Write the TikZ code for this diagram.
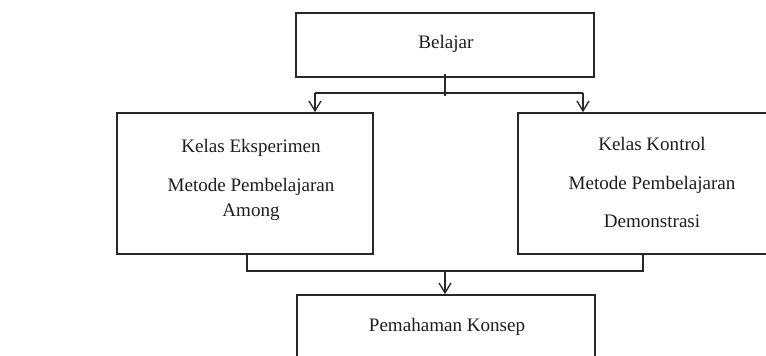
\documentclass[tikz,border=0pt]{standalone}
\usepackage{fontspec}
\setmainfont{Liberation Serif}
\usetikzlibrary{arrows.meta}

\tikzset{
	box/.style={draw={rgb,255:red,40;green,40;blue,40}, line width=1.2pt, rectangle, inner sep=0pt},
	txt/.style={anchor=base, inner sep=0pt, text={rgb,255:red,30;green,30;blue,30}, font=\fontsize{14.3}{17}\selectfont},
	link/.style={draw={rgb,255:red,40;green,40;blue,40}, line width=1pt},
	arr/.style={link, -{Straight Barb[length=7.5pt,width=9pt,line width=1pt]}}}

\begin{document}
\begin{tikzpicture}[x=0.75pt,y=0.75pt,yscale=-1,xscale=1]
	\useasboundingbox (0,0) rectangle (766,355);
	\clip (0,0) rectangle (766,355);

	% Boxes
	\node[box, minimum width=223.5pt, minimum height=48pt] (belajar) at (445,45) {};
	\node[box, minimum width=192pt, minimum height=105.75pt] (eks) at (245,183.5) {};
	\node[box, minimum width=201pt, minimum height=105.75pt] (kon) at (652,183.5) {};
	\node[box, minimum width=223.5pt, minimum height=48pt] (paham) at (446,327) {};

	% Text Node
	\node[txt] (belajarT) at (446,48.5) {Belajar};
	% Text Node
	\node[txt] (eksA) at (251,152.7) {Kelas Eksperimen};
	\node[txt] (eksB) at (251,191.7) {Metode Pembelajaran};
	\node[txt] (eksC) at (251,216.7) {Among};
	% Text Node
	\node[txt] (konA) at (652,150.7) {Kelas Kontrol};
	\node[txt] (konB) at (652,189) {Metode Pembelajaran};
	\node[txt] (konC) at (652,227.7) {Demonstrasi};
	% Text Node
	\node[txt] (pahamT) at (447,331.5) {Pemahaman Konsep};

	% Connectors
	\coordinate (splitL) at (315,93);
	\coordinate (splitR) at (583,93);
	\coordinate (joinL) at (247,271);
	\coordinate (joinR) at (643,271);
	\coordinate (join) at (445,271);

	\draw[link, shorten <=-3pt, shorten >=-2pt] (belajar.south) -- (belajar.south |- splitL);
	\draw[link] (splitL) -- (splitR);
	\draw[arr] (splitL) -- (splitL |- eks.north);
	\draw[arr] (splitR) -- (splitR |- kon.north);

	\draw[link] (eks.south -| joinL) -- (joinL) -- (joinR) -- (kon.south -| joinR);
	\draw[arr] (join) -- (join |- paham.north);

\end{tikzpicture}
\end{document}
